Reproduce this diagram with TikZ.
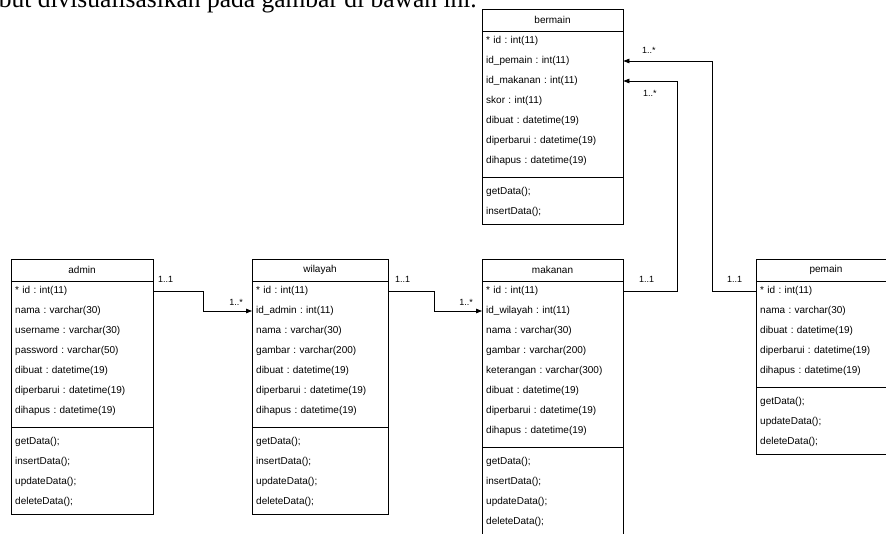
\documentclass[tikz,border=0pt]{standalone}
\usepackage{fontspec}
\setmainfont{Liberation Serif}
\newfontfamily\arialf{Liberation Sans}
\usetikzlibrary{arrows.meta}
\frenchspacing
\newcommand\ucfont{\arialf\fontsize{10}{12}\selectfont\frenchspacing}
\newcommand\uclblfont{\arialf\fontsize{9}{11}\selectfont\frenchspacing}
\tikzset{
  classbox/.style={draw=black, line width=0.8pt, fill=white, anchor=north west, inner sep=0pt},
  inner line/.style={draw=black, line width=0.8pt},
  titletxt/.style={font=\ucfont, inner sep=0pt, text=black},
  rowtxt/.style={anchor=west, inner xsep=4pt, inner ysep=0pt, align=left, font=\ucfont, text=black},
  conn/.style={draw=black, line width=0.8pt, -{Triangle[length=6pt,width=4.5pt]}},
  lbl/.style={font=\uclblfont, inner sep=0pt, text=black},
}
% #1 name, #2 left x, #3 top y, #4 width, #5 title, #6 n attrs, #7 attrs, #8 n methods, #9 methods
\newcommand\umlclass[9]{%
  \pgfmathsetmacro\ucSep{#3+22+20*#6+6}%
  \pgfmathsetmacro\ucBot{\ucSep+20*#8+7}%
  \pgfmathsetmacro\ucH{\ucBot-#3}%
  \pgfmathsetmacro\ucTw{#4-8}%
  \node[classbox, minimum width=#4pt, minimum height=\ucH pt] (#1) at (#2,#3) {};
  \node[titletxt] (#1-t) at ({#2+#4/2},{#3+11}) {#5};
  \draw[inner line] (#2,{#3+22}) -- ++(#4,0);
  \draw[inner line] (#2,\ucSep) -- ++(#4,0);
  \foreach \ucA [count=\ucI] in {#7} {
    \node[rowtxt, text width=\ucTw pt] (#1-a\ucI) at (#2,{#3+32+20*(\ucI-1)}) {\ucA};
  }
  \foreach \ucM [count=\ucI] in {#9} {
    \node[rowtxt, text width=\ucTw pt] (#1-m\ucI) at (#2,{\ucSep+15+20*(\ucI-1)}) {\ucM};
  }
}
\begin{document}
\begin{tikzpicture}[x=1pt, y=-1pt]
\useasboundingbox (0,0) rectangle (886,533);
\clip (0,0) rectangle (886,533);
\fill[white] (0,0) rectangle (886,533);

\node[anchor=base east, font=\fontsize{25.5}{30}\selectfont, inner sep=0pt] (intro) at (477,7) {but divisualisasikan pada gambar di bawah ini.};

\umlclass{bermain}{482}{9}{141}{bermain}{7}{{* id : int(11)},{id\_pemain : int(11)},{id\_makanan : int(11)},{skor : int(11)},{dibuat : datetime(19)},{diperbarui : datetime(19)},{dihapus : datetime(19)}}{2}{{getData();},{insertData();}}

\umlclass{admin}{11}{259}{142}{admin}{7}{{* id : int(11)},{nama : varchar(30)},{username : varchar(30)},{password : varchar(50)},{dibuat : datetime(19)},{diperbarui : datetime(19)},{dihapus : datetime(19)}}{4}{{getData();},{insertData();},{updateData();},{deleteData();}}

\umlclass{wilayah}{252}{259}{136}{wilayah}{7}{{* id : int(11)},{id\_admin : int(11)},{nama : varchar(30)},{gambar : varchar(200)},{dibuat : datetime(19)},{diperbarui : datetime(19)},{dihapus : datetime(19)}}{4}{{getData();},{insertData();},{updateData();},{deleteData();}}

\umlclass{makanan}{482}{259}{141}{makanan}{8}{{* id : int(11)},{id\_wilayah : int(11)},{nama : varchar(30)},{gambar : varchar(200)},{keterangan : varchar(300)},{dibuat : datetime(19)},{diperbarui : datetime(19)},{dihapus : datetime(19)}}{4}{{getData();},{insertData();},{updateData();},{deleteData();}}

\umlclass{pemain}{756}{259}{140}{pemain}{5}{{* id : int(11)},{nama : varchar(30)},{dibuat : datetime(19)},{diperbarui : datetime(19)},{dihapus : datetime(19)}}{3}{{getData();},{updateData();},{deleteData();}}

% connectors
\draw[conn] (admin-a1.east) -- ++(49.5,0) |- (wilayah-a2.west);
\draw[conn] (wilayah-a1.east) -- ++(46,0) |- (makanan-a2.west);
\draw[conn] (makanan-a1.east) -- ++(53.5,0) |- (bermain-a3.east);
\draw[conn] (pemain-a1.west) -- ++(-44,0) |- (bermain-a2.east);

% multiplicities
\node[lbl, anchor=west] (m1) at (158,279) {1..1};
\node[lbl, anchor=east] (m2) at (243,302) {1..*};
\node[lbl, anchor=west] (m3) at (395,279) {1..1};
\node[lbl, anchor=east] (m4) at (473,302) {1..*};
\node[lbl, anchor=west] (m5) at (639,279) {1..1};
\node[lbl, anchor=west] (m6) at (727,279) {1..1};
\node[lbl, anchor=west] (m7) at (642,50) {1..*};
\node[lbl, anchor=west] (m8) at (643,93) {1..*};
\end{tikzpicture}
\end{document}
